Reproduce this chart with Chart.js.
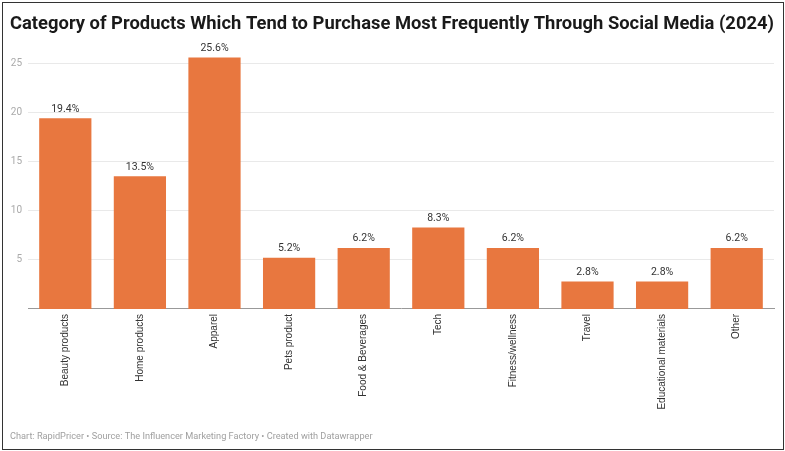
<!DOCTYPE html>
<html>
<head>
<meta charset="utf-8">
<script src="https://cdn.jsdelivr.net/npm/chart.js@4"></script>
<style>
  html, body { margin: 0; padding: 0; background: #fff; }
  #wrap { position: relative; width: 785px; height: 451px; }
  #wrap canvas { position: absolute; left: 0; top: 0; }
  #frame { position: absolute; left: 2px; top: 2px; width: 782px; height: 448px;
           box-sizing: border-box; border: 1.5px solid #333; pointer-events: none; }
</style>
</head>
<body>
<div id="wrap">
  <canvas id="chart" width="785" height="451"></canvas>
  <div id="frame"></div>
</div>
<script>
const categories = ['Beauty products', 'Home products', 'Apparel', 'Pets product', 'Food & Beverages',
  'Tech', 'Fitness/wellness', 'Travel', 'Educational materials', 'Other'];
const shares = [19.4, 13.5, 25.6, 5.2, 6.2, 8.3, 6.2, 2.8, 2.8, 6.2];
const yTicks = [5, 10, 15, 20, 25];

const titleText = 'Category of Products Which Tend to Purchase Most Frequently Through Social Media (2024)';
const footText = 'Chart: RapidPricer \u2022 Source: The Influencer Marketing Factory \u2022 Created with Datawrapper';

const barColor = '#e8773f';

// percent labels above each bar
const valueLabels = {
  id: 'valueLabels',
  afterDatasetsDraw(chart) {
    const ctx = chart.ctx;
    const meta = chart.getDatasetMeta(0);
    ctx.save();
    ctx.font = '10.5px Roboto';
    ctx.fillStyle = '#333';
    ctx.textAlign = 'center';
    ctx.textBaseline = 'bottom';
    meta.data.forEach(function(bar, i) {
      ctx.fillText(shares[i].toFixed(1) + '%', bar.x, bar.y - 4);
    });
    ctx.restore();
  }
};

new Chart(document.getElementById('chart'), {
  type: 'bar',
  data: {
    labels: categories,
    datasets: [{
      data: shares,
      backgroundColor: barColor,
      borderWidth: 0,
      barPercentage: 0.7,
      categoryPercentage: 1
    }]
  },
  plugins: [valueLabels],
  options: {
    responsive: false,
    animation: false,
    events: [],
    layout: { padding: { top: 4, left: 10, right: 11, bottom: 9 } },
    plugins: {
      legend: { display: false },
      tooltip: { enabled: false },
      title: {
        display: true,
        text: titleText,
        align: 'start',
        color: '#1a1a1a',
        font: { family: 'Roboto', size: 18.4, weight: 'bold' },
        padding: { top: 9, bottom: 13.5 }
      },
      subtitle: {
        display: true,
        position: 'bottom',
        text: footText,
        align: 'start',
        color: '#a0a0a0',
        font: { family: 'Roboto', size: 9.2 },
        padding: 0
      }
    },
    scales: {
      x: {
        grid: { display: false, drawTicks: false },
        border: { color: '#999', width: 1 },
        ticks: {
          minRotation: 90,
          maxRotation: 90,
          padding: 5,
          color: '#333',
          font: { family: 'Liberation Sans', size: 10 }
        },
        afterFit(scale) { scale.height = 122; }
      },
      y: {
        min: 0,
        max: 26.5,
        grid: { color: '#e9e9e9', drawTicks: false },
        border: { display: false },
        ticks: {
          padding: 6,
          color: '#aaa',
          font: { family: 'Roboto', size: 10 }
        },
        afterBuildTicks(scale) {
          scale.ticks = yTicks.map(v => ({ value: v }));
        },
        afterFit(scale) { scale.width = 18; }
      }
    }
  }
});
</script>
</body>
</html>
